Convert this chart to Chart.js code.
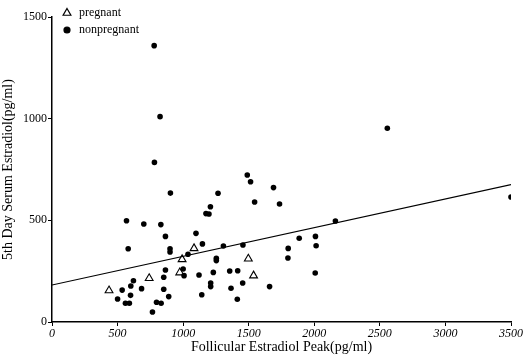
<!DOCTYPE html>
<html>
<head>
<meta charset="utf-8">
<script src="https://cdn.jsdelivr.net/npm/chart.js@4"></script>
<style>
  html, body { margin: 0; padding: 0; background: #fff; }
  #wrap { width: 524px; height: 356px; }
</style>
</head>
<body>
<div id="wrap"><canvas id="chart"></canvas></div>
<script>
const pregnantX = [435, 741, 974, 992, 1083, 1497, 1537]
const pregnantY = [155, 215, 243, 308, 362, 311, 228]

const nonpregnantX = [500, 535, 560, 590, 568, 581, 599, 601, 621, 683, 700, 766, 797, 832, 830, 865, 865, 852, 852, 890,
  900, 900, 903, 1000, 1007, 1037, 1098, 1121, 1142, 1147, 1174, 1197, 1208, 1210, 1210, 1230, 1253, 1253, 1266, 1307,
  1355, 1365, 1413, 1416, 1454, 1456, 1489, 1514, 1545, 1689, 1735, 1659, 1801, 1799, 1885, 2009, 2014, 2007, 2161, 3500,
  2557, 779, 824, 781]
const nonpregnantY = [113, 157, 92, 92, 498, 360, 131, 177, 203, 164, 482, 49, 97, 92, 479, 421, 256, 220, 161, 125,
  360, 344, 634, 261, 228, 333, 436, 231, 134, 384, 533, 531, 567, 192, 174, 244, 313, 302, 633, 374,
  251, 166, 112, 252, 192, 379, 723, 690, 590, 661, 580, 174, 362, 315, 412, 421, 375, 241, 497, 615,
  953, 1359, 1010, 785]

const trendX = [0, 3500]
const trendY = [182, 676]

const xTicks = [0, 500, 1000, 1500, 2000, 2500, 3000, 3500]
const yTicks = [0, 500, 1000, 1500]

const toPoints = (xs, ys) => xs.map((x, i) => ({ x, y: ys[i] }))
const serif = "'Liberation Serif', 'DejaVu Serif', serif"

// legend drawn by hand at the top left of the plot, like the original figure
const cornerLegend = {
  id: "cornerLegend",
  afterDraw(chart) {
    const { ctx, chartArea } = chart
    const x = chartArea.left + 15
    const rows = [
      { style: "triangle", fill: "#fff", text: "pregnant", r: 4.5 },
      { style: "circle", fill: "#000", text: "nonpregnant", r: 3 },
    ]
    ctx.save()
    ctx.font = `12px ${serif}`
    ctx.textBaseline = "middle"
    rows.forEach((row, i) => {
      const y = chartArea.top - 4 + i * 17
      ctx.fillStyle = row.fill
      ctx.strokeStyle = "#000"
      ctx.lineWidth = 1.2
      Chart.helpers.drawPoint(ctx, { pointStyle: row.style, radius: row.r, borderWidth: 1.2 }, x, y)
      ctx.fillStyle = "#000"
      ctx.fillText(row.text, x + 12, y)
    })
    ctx.restore()
  },
}

new Chart(document.getElementById("chart"), {
  type: "scatter",
  data: {
    datasets: [
      {
        label: "trend",
        type: "line",
        data: toPoints(trendX, trendY),
        borderColor: "#000",
        borderWidth: 1.2,
        pointRadius: 0,
        fill: false,
      },
      {
        label: "nonpregnant",
        data: toPoints(nonpregnantX, nonpregnantY),
        pointStyle: "circle",
        pointRadius: 2.8,
        backgroundColor: "#000",
        borderColor: "#000",
        borderWidth: 0,
      },
      {
        label: "pregnant",
        data: toPoints(pregnantX, pregnantY),
        pointStyle: "triangle",
        pointRadius: 4.5,
        backgroundColor: "#fff",
        borderColor: "#000",
        borderWidth: 1.1,
      },
    ],
  },
  options: {
    responsive: true,
    maintainAspectRatio: false,
    animation: false,
    layout: { padding: { top: 17, right: 12, left: 0, bottom: 0 } },
    plugins: { legend: { display: false }, tooltip: { enabled: false } },
    scales: {
      x: {
        type: "linear",
        min: 0,
        max: 3500,
        afterBuildTicks: (scale) => { scale.ticks = xTicks.map((value) => ({ value })) },
        afterFit: (scale) => { scale.height = 34 },
        ticks: { color: "#000", font: { family: serif, size: 12, style: "italic" }, padding: 1, maxRotation: 0, callback: (v) => String(v) },
        grid: { display: true, drawOnChartArea: false, drawTicks: true, tickLength: 4, color: "#000" },
        border: { display: true, color: "#000", width: 1.5 },
        title: { display: true, text: "Follicular Estradiol Peak(pg/ml)", color: "#000", font: { family: serif, size: 14 }, padding: { top: 0, bottom: 0 } },
      },
      y: {
        type: "linear",
        min: 0,
        max: 1500,
        afterBuildTicks: (scale) => { scale.ticks = yTicks.map((value) => ({ value })) },
        afterFit: (scale) => { scale.width = 52 },
        ticks: { color: "#000", font: { family: serif, size: 12 }, padding: 1, callback: (v) => String(v) },
        grid: { display: true, drawOnChartArea: false, drawTicks: true, tickLength: 4, color: "#000" },
        border: { display: true, color: "#000", width: 1.5 },
        title: { display: true, text: "5th Day Serum Estradiol(pg/ml)", color: "#000", font: { family: serif, size: 14 }, padding: { top: 0, bottom: 0 } },
      },
    },
  },
  plugins: [cornerLegend],
})
</script>
</body>
</html>
